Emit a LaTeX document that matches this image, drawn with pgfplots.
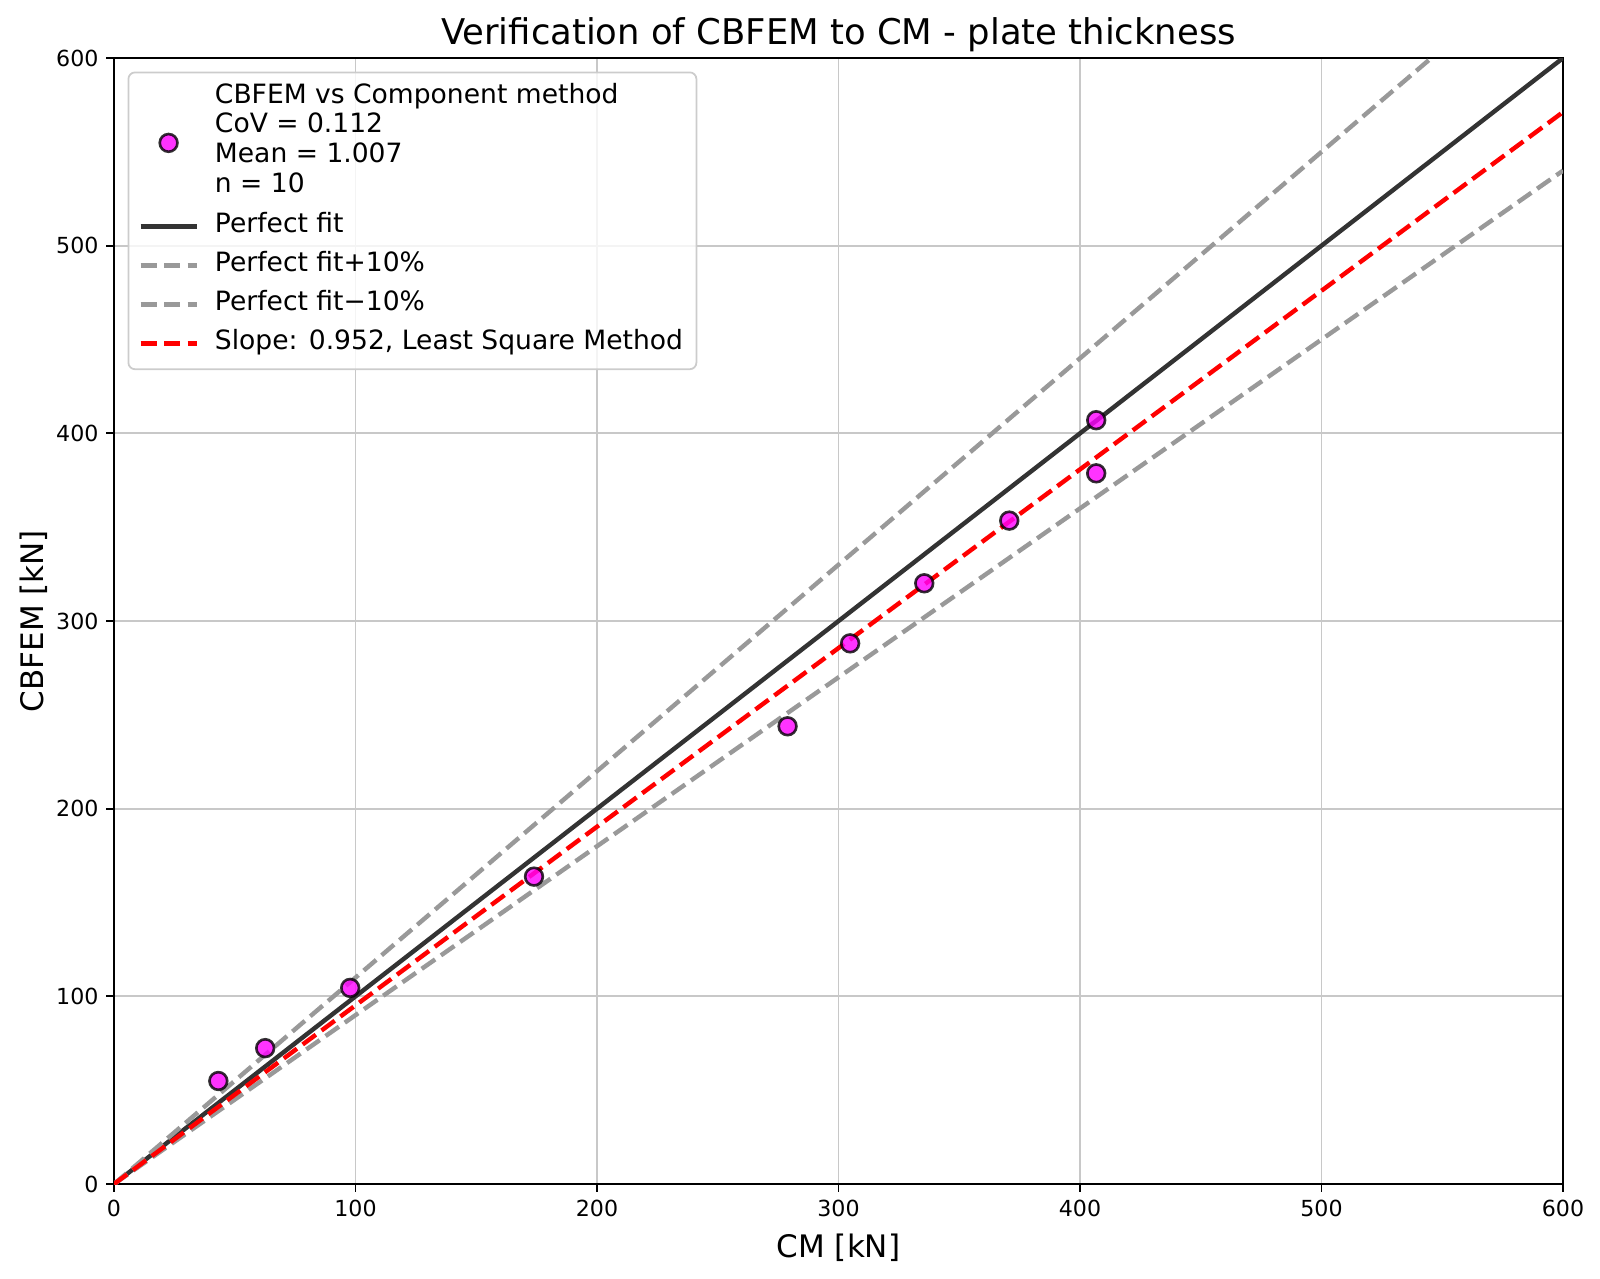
\documentclass[border=0pt]{standalone}
\usepackage{fontspec}
\setmainfont{DejaVu Sans}
\usepackage{pgfplots}
\pgfplotsset{compat=1.18}
\usetikzlibrary{calc}
\definecolor{gridc}{HTML}{C8C8C8}
\definecolor{pfit}{HTML}{333333}
\definecolor{tol}{HTML}{999999}
\definecolor{legframe}{HTML}{CCCCCC}
\definecolor{mag}{RGB}{255,0,255}
\definecolor{pred}{RGB}{255,0,0}
\begin{document}
\begin{tikzpicture}
\begin{axis}[
  scale only axis,
  width=654.5pt, height=508.6pt,
  xmin=0, xmax=600, ymin=0, ymax=600,
  xtick={0,100,...,600}, ytick={0,100,...,600},
  /pgf/number format/assume math mode=true,
  tick label style={font=\fontsize{10}{12}\selectfont},
  tick align=outside, major tick length=3.5pt,
  tick style={black, line width=0.8pt},
  xtick pos=bottom, ytick pos=left,
  axis line style={black, line width=0.8pt},
  grid=major,
  major grid style={gridc, line width=0.8pt},
  title={Verification of CBFEM to CM - plate thickness},
  title style={font=\fontsize{16}{19}\selectfont, at={(0.5,1)}, anchor=base},
  xlabel={CM [kN]},
  xlabel style={font=\fontsize{14}{17}\selectfont, at={(axis description cs:0.5,0)}, anchor=base, yshift=-33pt},
  ylabel={CBFEM [kN]},
  ylabel style={font=\fontsize{14}{17}\selectfont, at={(axis description cs:-0.0489,0.5)}, anchor=base},
  legend cell align=left,
  legend style={at={(0,1)}, anchor=north west, xshift=6.1pt, yshift=-6.1pt,
    draw=legframe, line width=0.8pt, rounded corners=3pt, fill=white, fill opacity=0.8, text opacity=1,
    font=\fontsize{12}{14.4}\selectfont,
    inner xsep=4.5pt, inner ysep=4pt,
    nodes={inner xsep=1.5pt, inner ysep=0.5pt, text depth={}},
    row sep=2.2pt, column sep=5.8pt},
  legend image code/.code={\draw[mark repeat=2,mark phase=2] plot coordinates {(0pt,0pt)(12.65pt,0pt)(25.3pt,0pt)};},
]
\addlegendimage{only marks, mark=*, mark size=4pt, mark options={fill=mag, draw=black, line width=1.2pt, opacity=0.8}}
\addlegendentry{\fontsize{12}{13.4}\selectfont\begin{tabular}{@{}l@{}}CBFEM vs Component method\\CoV = 0.112\\Mean = 1.007\\n = 10\rule[-5.1pt]{0pt}{1pt}\end{tabular}}
\addplot[pfit, line width=2pt] coordinates {(0,0) (600,600)};
\addlegendentry{\strut Perfect fit}
\addplot[tol, line width=2pt, dash pattern=on 7.4pt off 3.2pt] coordinates {(0,0) (600,660)};
\addlegendentry{\strut Perfect fit+10\%}
\addplot[tol, line width=2pt, dash pattern=on 7.4pt off 3.2pt] coordinates {(0,0) (600,540)};
\addlegendentry{\strut Perfect fit−10\%}
\addplot[pred, line width=2pt, dash pattern=on 7.4pt off 3.2pt] coordinates {(0,0) (600,571.2)};
\addlegendentry{\strut Slope: 0.952, Least Square Method}
\addplot[forget plot, only marks, mark=*, mark size=4pt, mark options={fill=mag, draw=black, line width=1.2pt, opacity=0.8}] coordinates {
(43.2,54.9) (62.6,72.4) (97.8,104.5) (173.9,163.8) (278.9,243.9)
(304.8,288.1) (335.5,320.1) (370.7,353.5) (406.7,407.0) (406.7,378.7)
};
\end{axis}
\pgfresetboundingbox
\path[use as bounding box] ($(current axis.south west)+(-51.5pt,-42.9pt)$) rectangle ($(current axis.north east)+(16.7pt,26.2pt)$);
\end{tikzpicture}
\end{document}
